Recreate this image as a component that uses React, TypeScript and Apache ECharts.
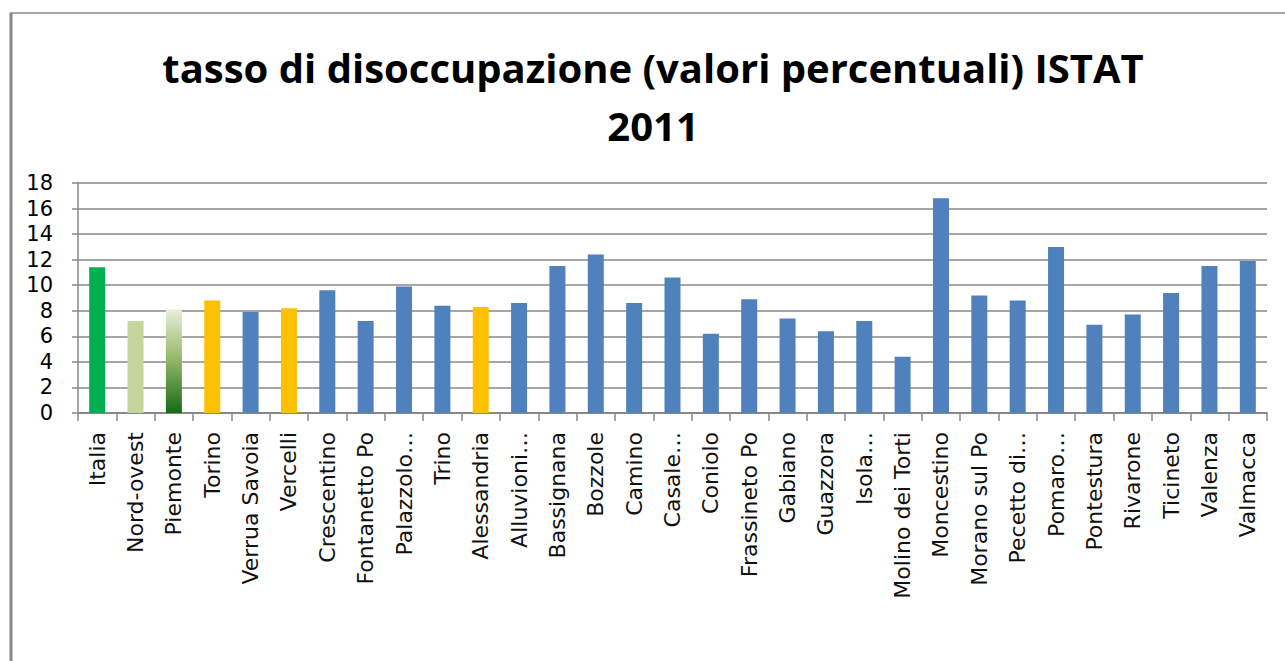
import React, { useEffect, useRef } from "react";
import * as echarts from "echarts";

const categories = [
  "Italia", "Nord-ovest", "Piemonte", "Torino", "Verrua Savoia", "Vercelli",
  "Crescentino", "Fontanetto Po", "Palazzolo…", "Trino", "Alessandria", "Alluvioni…",
  "Bassignana", "Bozzole", "Camino", "Casale…", "Coniolo", "Frassineto Po",
  "Gabiano", "Guazzora", "Isola…", "Molino dei Torti", "Moncestino", "Morano sul Po",
  "Pecetto di…", "Pomaro…", "Pontestura", "Rivarone", "Ticineto", "Valenza", "Valmacca",
];

const values = [
  11.4, 7.2, 8.1, 8.8, 7.9, 8.2,
  9.6, 7.2, 9.9, 8.4, 8.3, 8.6,
  11.5, 12.4, 8.6, 10.6, 6.2, 8.9,
  7.4, 6.4, 7.2, 4.4, 16.8, 9.2,
  8.8, 13.0, 6.9, 7.7, 9.4, 11.5, 11.9,
];

// colour group of each bar: "it" Italia, "no" Nord-ovest, "pi" Piemonte, "pr" provincia, "co" comune
const groups = [
  "it", "no", "pi", "pr", "co", "pr",
  "co", "co", "co", "co", "pr", "co",
  "co", "co", "co", "co", "co", "co",
  "co", "co", "co", "co", "co", "co",
  "co", "co", "co", "co", "co", "co", "co",
];

const yTicks = [0, 2, 4, 6, 8, 10, 12, 14, 16, 18];

const titleLines = ["tasso di disoccupazione (valori percentuali) ISTAT", "2011"];

export default function App() {
  const ref = useRef<HTMLDivElement>(null);
  useEffect(() => {
    document.body.style.margin = "0";
    const chart = echarts.init(ref.current!, null, { renderer: "svg" });
    const colorFor = (g: string) => {
      if (g === "it") return "#00B050";
      if (g === "no") return "#C3D69B";
      if (g === "pi")
        return new echarts.graphic.LinearGradient(0, 0, 0, 1, [
          { offset: 0, color: "#E6EFDC" },
          { offset: 0.45, color: "#9CBB6E" },
          { offset: 1, color: "#146B14" },
        ]);
      if (g === "pr") return "#FFC000";
      return "#4F81BD";
    };
    chart.setOption({
      animation: false,
      backgroundColor: "#FFFFFF",
      graphic: [
        {
          type: "line",
          shape: { x1: 11, y1: 13, x2: 1285, y2: 13 },
          style: { stroke: "#888888", lineWidth: 1.5 },
        },
        {
          type: "line",
          shape: { x1: 11, y1: 12.5, x2: 11, y2: 661 },
          style: { stroke: "#888888", lineWidth: 3 },
        },
        {
          type: "text",
          x: 653,
          y: 38,
          style: {
            text: titleLines.join("\n"),
            font: "bold 40px 'Open Sans'",
            fill: "#000000",
            textAlign: "center",
            textVerticalAlign: "top",
            lineHeight: 58,
          },
        },
      ],
      grid: { left: 78, right: 18, top: 183, bottom: 248, containLabel: false },
      xAxis: {
        type: "category",
        data: categories,
        boundaryGap: true,
        axisLine: { show: true, lineStyle: { color: "#888888", width: 2 } },
        axisTick: { show: true, alignWithLabel: false, length: 8, lineStyle: { color: "#888888", width: 1.5 } },
        axisLabel: {
          rotate: 90,
          interval: 0,
          margin: 19,
          fontFamily: "DejaVu Sans",
          fontSize: 22,
          color: "#111111",
        },
        splitLine: { show: false },
      },
      yAxis: {
        type: "value",
        min: 0,
        max: 18,
        interval: 2,
        axisLine: { show: true, lineStyle: { color: "#888888", width: 1.5 } },
        axisTick: { show: true, length: 6, lineStyle: { color: "#888888", width: 1.5 } },
        axisLabel: {
          margin: 25,
          fontFamily: "DejaVu Sans",
          fontSize: 21,
          color: "#000000",
          formatter: (v: number) => (yTicks.includes(v) ? String(v) : ""),
        },
        splitLine: { show: true, lineStyle: { color: "#888888", width: 1.5 } },
      },
      series: [
        {
          type: "bar",
          barWidth: 16,
          data: values.map((v, i) => ({ value: v, itemStyle: { color: colorFor(groups[i]) } })),
        },
      ],
    });
    return () => chart.dispose();
  }, []);
  return (
    <div
      ref={ref}
      style={{ position: "fixed", left: 0, top: 0, width: 1285, height: 661 }}
    />
  );
}
